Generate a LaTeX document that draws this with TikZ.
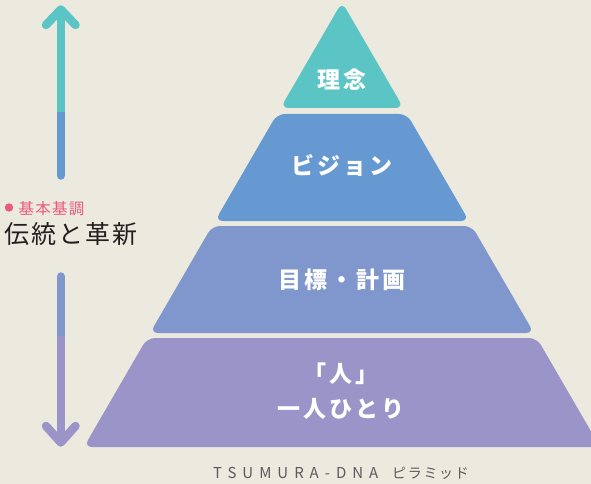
\documentclass[tikz,border=0pt]{standalone}
\usepackage{fontspec}
\setmainfont{Noto Sans CJK JP}
\newfontfamily\tierfont{Noto Sans CJK JP}[LetterSpace=13]
\newfontfamily\labfont{Noto Sans CJK JP}[LetterSpace=8]
\newfontfamily\latfont{Noto Sans CJK JP}[LetterSpace=40]
\newfontfamily\katfont{Noto Sans CJK JP}[LetterSpace=12]
\definecolor{bg}{HTML}{ECEADF}
\definecolor{cteal}{HTML}{5BC4C5}
\definecolor{cblue}{HTML}{6699D2}
\definecolor{cperi}{HTML}{8097CE}
\definecolor{cpurp}{HTML}{9A94C8}
\definecolor{cpink}{HTML}{EA5A7C}
\definecolor{cdark}{HTML}{231F20}
\definecolor{cgray}{HTML}{5A5A5A}
\tikzset{
  tier/.style={rounded corners=8pt},
  tierlabel/.style={text=white, font=\tierfont\bfseries\fontsize{23}{26}\selectfont,
    inner sep=0pt, text height=19.1pt, text depth=1.6pt, align=center},
  shaft/.style={line width=8.5pt, line cap=butt},
  shaftround/.style={line width=8.5pt, line cap=round},
  chevron/.style={line width=8.5pt, line cap=round, line join=round},
}
\begin{document}
\begin{tikzpicture}[x=1pt,y=-1pt]
\useasboundingbox (0,0) rectangle (591,484);
\clip (0,0) rectangle (591,484);
\fill[bg] (0,0) rectangle (591,484);
% tiers
\fill[cteal, tier] (342,2) -- (403.5,108) -- (280.5,108) -- cycle;
\fill[cblue, tier] (277.04,114) -- (406.96,114) -- (469.02,221) -- (214.98,221) -- cycle;
\fill[cperi, tier] (212.08,226) -- (471.92,226) -- (533.98,333) -- (150.02,333) -- cycle;
\fill[cpurp, tier] (147.12,338) -- (536.88,338) -- (600.1,447) -- (83.9,447) -- cycle;
% tier labels
\node[tierlabel] (t1) at (342,79.5) {理念};
\node[tierlabel] (t2) at (342,166) {ビジョン};
\node[tierlabel] (t3) at (342,280) {目標・計画};
\node[tierlabel] (t4a) at (341,374) {「人」};
\node[tierlabel] (t4b) at (341,409) {一人ひとり};
% arrows
\coordinate (upTip) at (60.8,9.5);
\coordinate (upL) at (46,25);
\coordinate (upR) at (75.5,25);
\coordinate (upMid) at (60.8,112);
\coordinate (upEnd) at (60.8,175.5);
\draw[shaftround, cblue] (upMid) -- (upEnd);
\draw[shaft, cteal] (upTip) -- (upMid);
\draw[chevron, cteal] (upL) -- (upTip) -- (upR);
\coordinate (dnStart) at (60.8,276.5);
\coordinate (dnMid) at (60.8,336);
\coordinate (dnTip) at (60.8,442.5);
\coordinate (dnL) at (46,426);
\coordinate (dnR) at (75.5,426);
\draw[shaftround, cperi] (dnStart) -- (dnMid);
\draw[shaft, cpurp] (dnMid) -- (dnTip);
\draw[chevron, cpurp] (dnL) -- (dnTip) -- (dnR);
% left labels
\fill[cpink] (9,207.5) circle (4.2);
\node[anchor=west, inner sep=0pt, text=cpink, font=\labfont\fontsize{15.5}{18}\selectfont,
  text height=12.9pt, text depth=1.1pt] (sub) at (18.5,208.5) {基本基調};
\node[anchor=west, inner sep=0pt, text=cdark, font=\labfont\fontsize{25}{28}\selectfont,
  text height=20.75pt, text depth=1.75pt] (main) at (4,234) {伝統と革新};
% caption
\node[anchor=west, inner sep=0pt, text=cgray, font=\latfont\fontsize{15}{17}\selectfont,
  text height=10.95pt, text depth=0pt] (cap1) at (213,473) {TSUMURA-DNA};
\node[anchor=west, inner sep=0pt, text=cgray, font=\katfont\fontsize{14}{16}\selectfont,
  text height=11.6pt, text depth=1pt] (cap2) at (392,473) {ピラミッド};
\end{tikzpicture}
\end{document}
